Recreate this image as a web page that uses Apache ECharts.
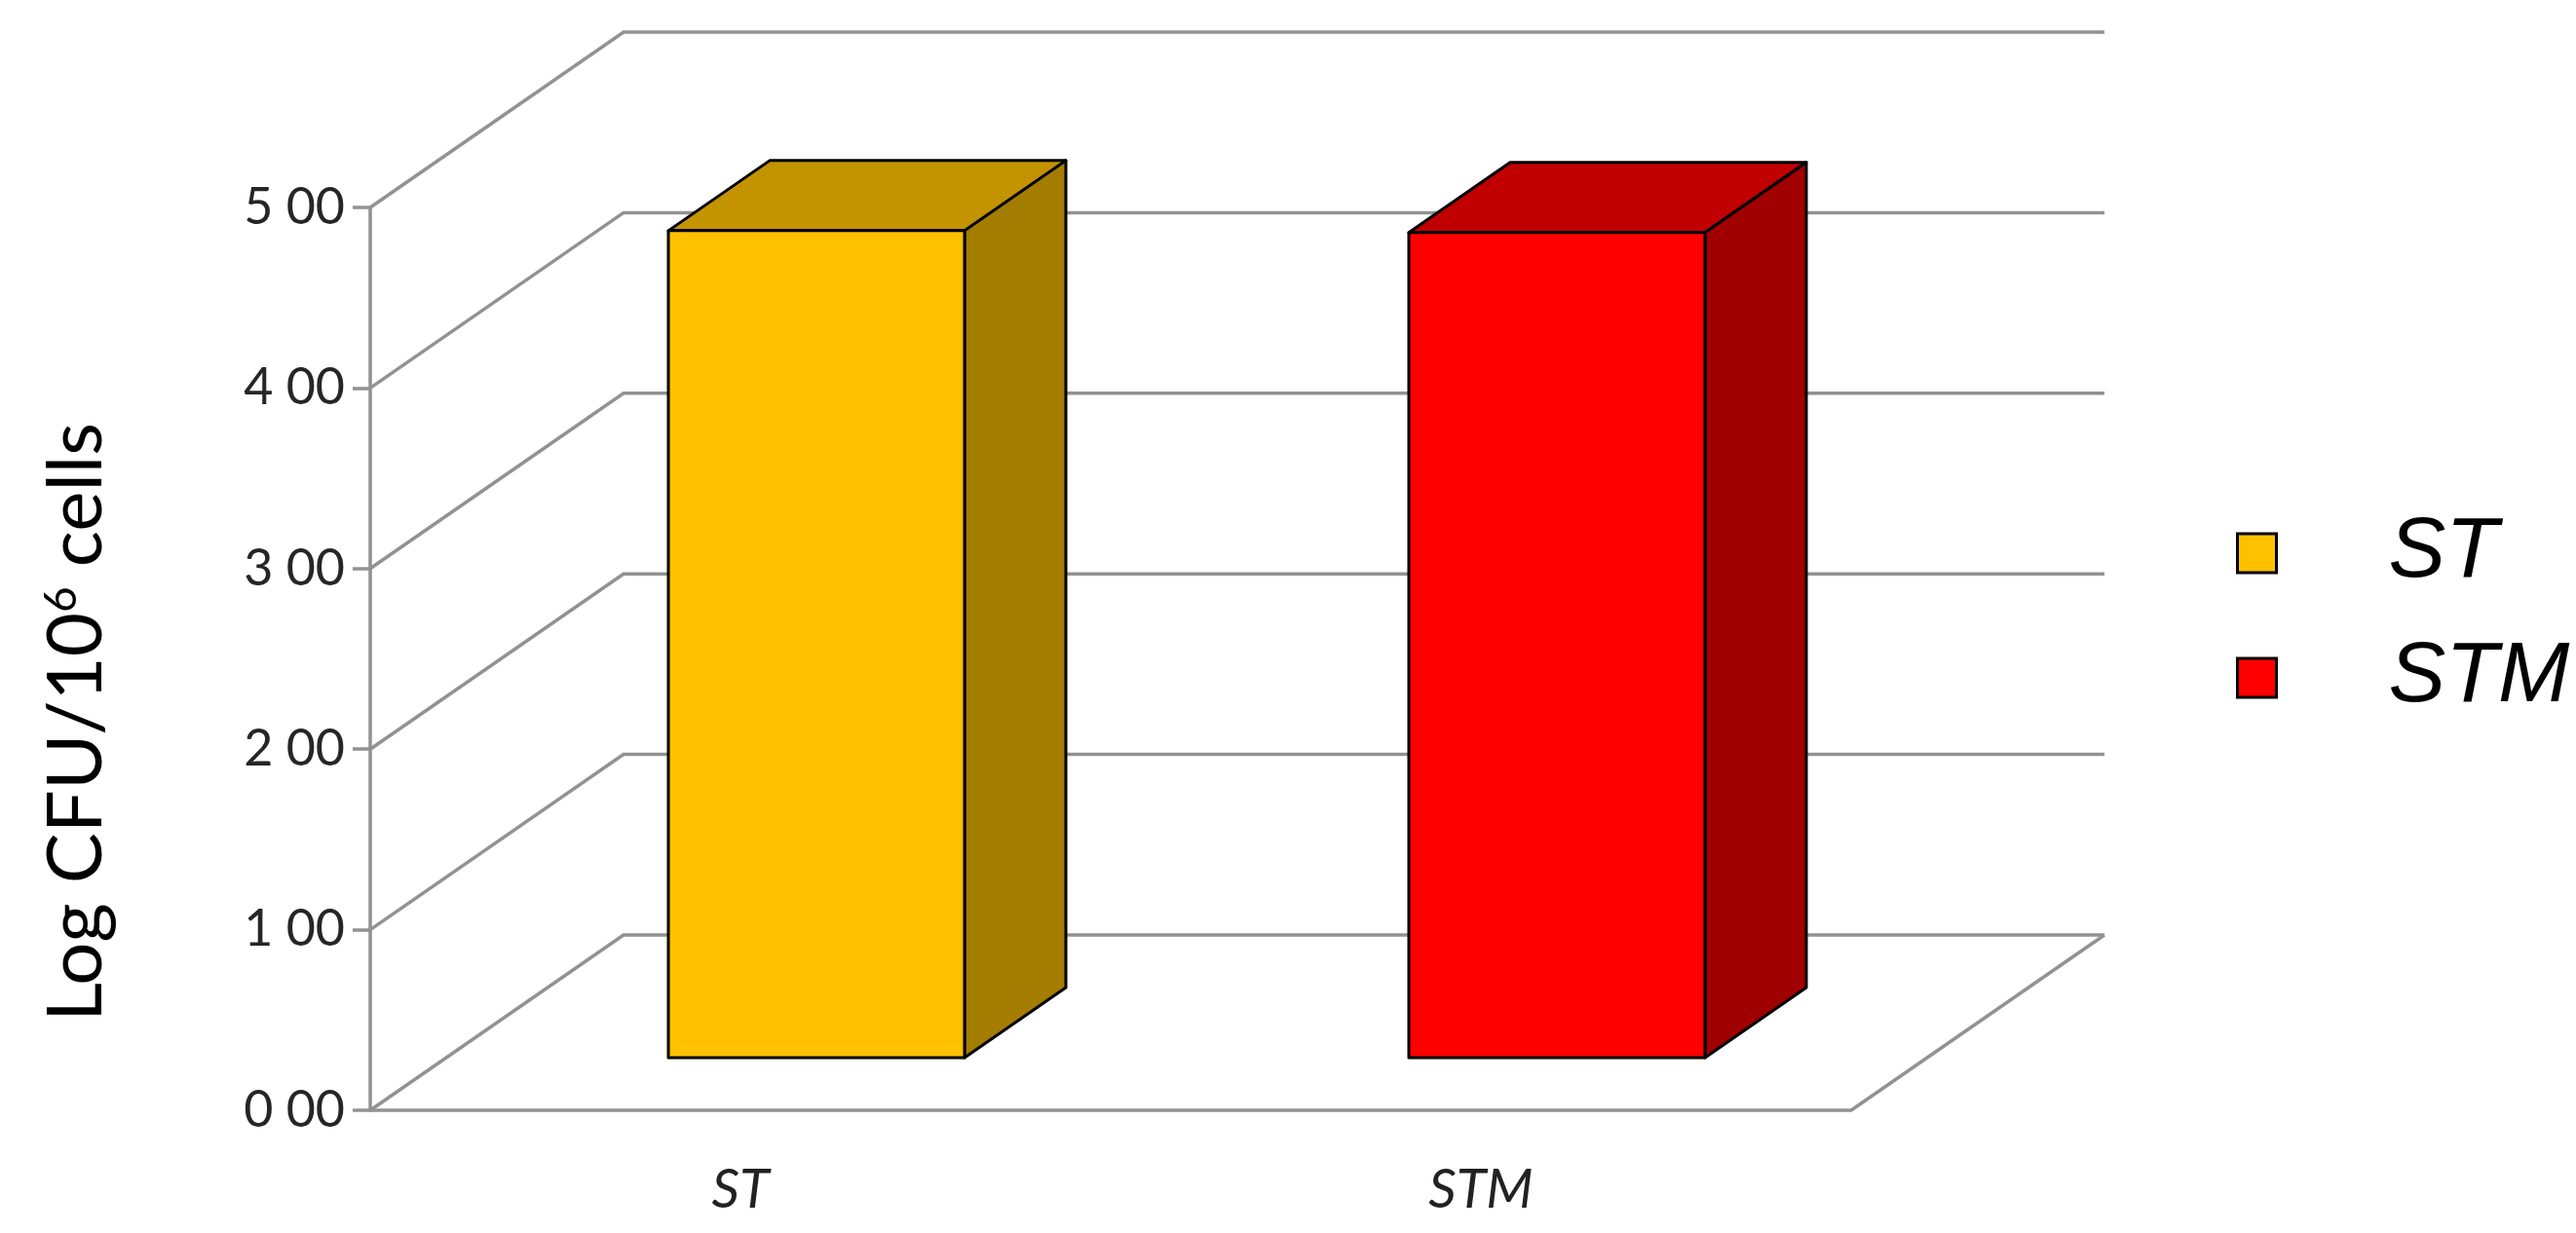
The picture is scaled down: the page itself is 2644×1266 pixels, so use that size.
<!DOCTYPE html>
<html>
<head>
<meta charset="utf-8">
<script src="https://cdn.jsdelivr.net/npm/echarts@6/dist/echarts.min.js"></script>
<style>
  html, body { margin: 0; padding: 0; background: #fff; }
  #chart { width: 2644px; height: 1266px; }
</style>
</head>
<body>
<div id="chart"></div>
<script>
// values
var categories = ['ST', 'STM'];
var cfuValues = [4.58, 4.57];
var yTicks = [0, 1, 2, 3, 4, 5];

// fake 3D depth of the plot (px) and where the bars sit inside it
var DX = 260, DY = -180;
var F0 = 0.30, F1 = 0.70;
var BAR = 0.4;

var faces = [
    { front: '#FFC000', top: '#C39300', side: '#A47C00' },
    { front: '#FF0000', top: '#C00000', side: '#A00000' }
];

var gridColor = '#929292';

function renderWall(params, api) {
    var v = api.value(1);
    var p0 = api.coord([0, v]);
    var p1 = api.coord([categories.length - 1, v]);
    var band = (p1[0] - p0[0]) / (categories.length - 1);
    var xl = p0[0] - band / 2, xr = p1[0] + band / 2, y = p0[1];
    var lineStyle = { stroke: gridColor, lineWidth: 3.5, fill: null };
    var children = [{
        type: 'polyline',
        shape: { points: [[xl, y], [xl + DX, y + DY], [xr + DX, y + DY]] },
        style: lineStyle
    }];
    if (v === 0) {
        // right edge of the floor
        children.push({
            type: 'line',
            shape: { x1: xr, y1: y, x2: xr + DX, y2: y + DY },
            style: lineStyle
        });
    }
    return { type: 'group', children: children };
}

function renderBar(params, api) {
    var i = api.value(0);
    var top = api.coord([i, api.value(1)]);
    var base = api.coord([i, 0]);
    var band = api.coord([1, 0])[0] - api.coord([0, 0])[0];
    var bw = band * BAR;
    var xl = top[0] - bw / 2, xr = top[0] + bw / 2;
    var ax = DX * F0, ay = DY * F0, bx = DX * F1, by = DY * F1;
    var c = faces[i];
    var edge = { stroke: '#000', lineWidth: 3, lineJoin: 'round' };
    return {
        type: 'group',
        children: [
            {
                type: 'polygon',
                shape: { points: [[xl + ax, top[1] + ay], [xr + ax, top[1] + ay], [xr + bx, top[1] + by], [xl + bx, top[1] + by]] },
                style: Object.assign({ fill: c.top }, edge)
            },
            {
                type: 'polygon',
                shape: { points: [[xr + ax, top[1] + ay], [xr + bx, top[1] + by], [xr + bx, base[1] + by], [xr + ax, base[1] + ay]] },
                style: Object.assign({ fill: c.side }, edge)
            },
            {
                type: 'rect',
                shape: { x: xl + ax, y: top[1] + ay, width: bw, height: base[1] - top[1] },
                style: Object.assign({ fill: c.front }, edge)
            }
        ]
    };
}

var chart = echarts.init(document.getElementById('chart'));

var option = {
    backgroundColor: '#fff',
    animation: false,
    grid: {
        left: 380,
        top: 213,
        width: 1520,
        height: 927
    },
    legend: {
        orient: 'vertical',
        left: 2290,
        top: 518,
        icon: 'rect',
        itemWidth: 40,
        itemHeight: 40,
        itemGap: 38,
        data: categories,
        itemStyle: { borderColor: '#000', borderWidth: 3 },
        textStyle: {
            fontFamily: 'Liberation Sans',
            fontStyle: 'italic',
            fontSize: 88,
            lineHeight: 90,
            color: '#000',
            padding: [0, 0, 0, 110]
        }
    },
    xAxis: {
        type: 'category',
        data: categories,
        axisLine: { lineStyle: { color: gridColor, width: 3.5 } },
        axisTick: { length: 18, lineStyle: { color: gridColor, width: 3.5 } },
        axisLabel: {
            margin: 54,
            fontFamily: 'Lato',
            fontStyle: 'italic',
            fontSize: 56,
            color: '#222'
        },
        splitLine: { show: false }
    },
    yAxis: {
        type: 'value',
        min: 0,
        max: 5,
        interval: 1,
        name: 'Log CFU/10{sup|6} cells',
        nameLocation: 'middle',
        nameRotate: 90,
        nameGap: 262,
        nameTextStyle: {
            fontFamily: 'Lato',
            fontSize: 78,
            color: '#000',
            padding: [0, 130, 0, 0],
            rich: {
                sup: {
                    fontFamily: 'Lato',
                    fontSize: 46,
                    color: '#000',
                    verticalAlign: 'top',
                    padding: [0, 0, 30, 0]
                }
            }
        },
        axisLine: { show: true, lineStyle: { color: gridColor, width: 3.5 } },
        axisTick: { show: true, length: 18, lineStyle: { color: gridColor, width: 3.5 } },
        axisLabel: {
            margin: 26,
            fontFamily: 'Liberation Sans Narrow, Lato',
            fontSize: 52,
            color: '#262626',
            formatter: function (v) { return v.toFixed(2).replace('.', ' '); }
        },
        splitLine: { show: false }
    },
    series: [
        {
            name: 'walls',
            type: 'custom',
            z: 1,
            silent: true,
            clip: false,
            renderItem: renderWall,
            encode: { x: 0, y: 1 },
            data: yTicks.map(function (v) { return [0, v]; })
        },
        {
            name: categories[0],
            type: 'custom',
            z: 3,
            clip: false,
            itemStyle: { color: faces[0].front },
            renderItem: renderBar,
            encode: { x: 0, y: 1 },
            data: [[0, cfuValues[0]]]
        },
        {
            name: categories[1],
            type: 'custom',
            z: 3,
            clip: false,
            itemStyle: { color: faces[1].front },
            renderItem: renderBar,
            encode: { x: 0, y: 1 },
            data: [[1, cfuValues[1]]]
        }
    ]
};

chart.setOption(option);
</script>
</body>
</html>
